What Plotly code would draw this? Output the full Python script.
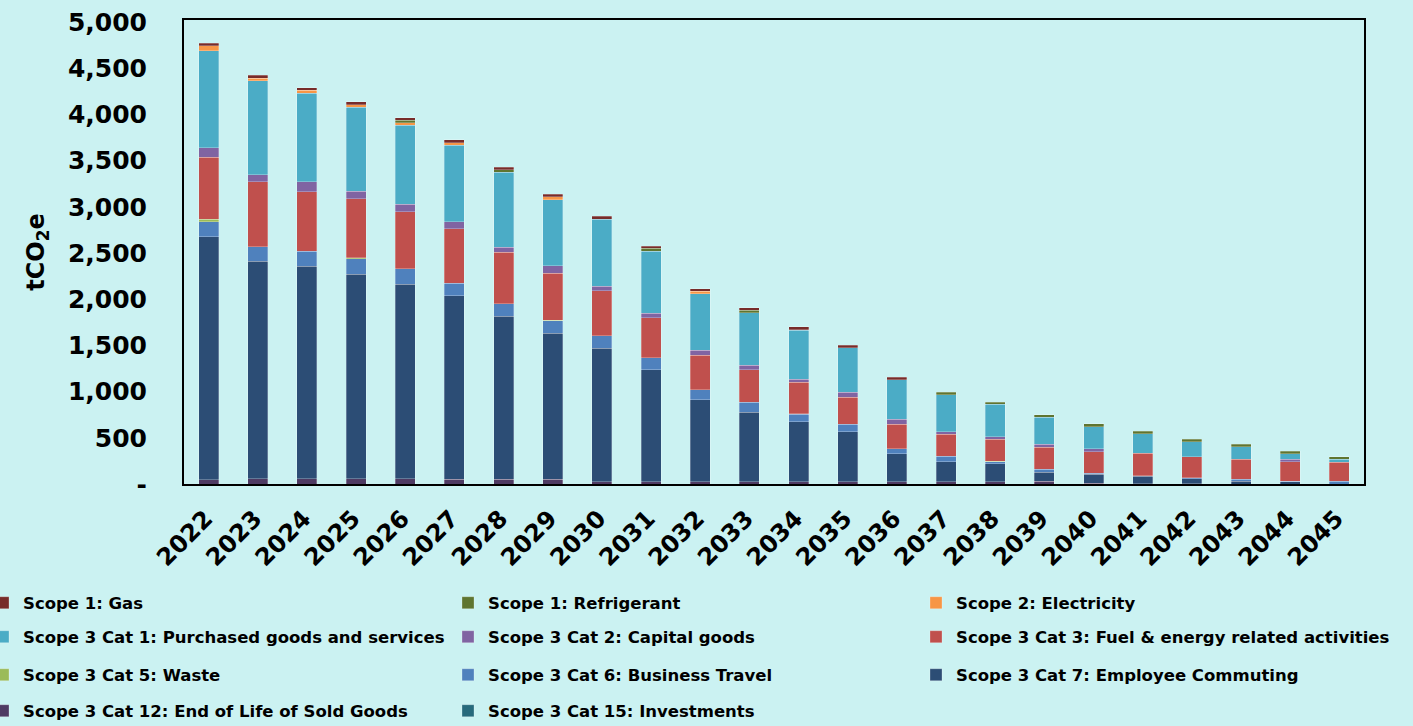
import plotly.graph_objects as go

years = [str(y) for y in range(2022, 2046)]

gas         = [30, 29, 29, 32, 29, 29, 25, 29, 32, 22, 25, 25, 29, 29, 29, 0, 0, 0, 0, 0, 0, 0, 0, 0]
refrigerant = [0, 0, 0, 0, 25, 0, 29, 0, 0, 32, 0, 29, 8, 0, 0, 29, 25, 29, 29, 25, 29, 25, 29, 29]
electricity = [55, 32, 32, 29, 29, 29, 0, 29, 0, 0, 29, 0, 0, 0, 0, 0, 0, 0, 0, 0, 0, 0, 0, 0]
cat1  = [1050, 1014, 960, 909, 855, 830, 808, 718, 722, 671, 613, 563, 530, 483, 429, 400, 350, 292, 242, 213, 162, 137, 58, 29]
cat2  = [101, 79, 105, 83, 79, 76, 54, 79, 54, 51, 54, 51, 29, 51, 54, 29, 29, 29, 29, 0, 0, 0, 29, 0]
cat3  = [671, 700, 646, 638, 617, 588, 559, 509, 483, 429, 371, 350, 346, 296, 267, 238, 235, 242, 231, 242, 225, 213, 213, 209]
cat5  = [29, 0, 0, 10, 0, 0, 0, 5, 0, 0, 0, 0, 5, 0, 0, 0, 5, 0, 0, 5, 0, 0, 0, 0]
cat6  = [159, 159, 159, 166, 166, 137, 134, 134, 134, 134, 108, 108, 79, 79, 54, 58, 22, 29, 11, 0, 10, 25, 3, 29]
cat7  = [2630, 2352, 2301, 2214, 2106, 1981, 1764, 1580, 1446, 1208, 887, 754, 649, 541, 300, 216, 195, 100, 101, 83, 54, 29, 25, 0]
cat12 = [48, 58, 58, 58, 58, 54, 54, 54, 26, 26, 26, 25, 25, 25, 25, 25, 25, 29, 7, 3, 5, 0, 0, 0]
cat15 = [0] * 24

y_tickvals = [0, 500, 1000, 1500, 2000, 2500, 3000, 3500, 4000, 4500, 5000]
y_ticktext = ["-", "500", "1,000", "1,500", "2,000", "2,500", "3,000", "3,500", "4,000", "4,500", "5,000"]

# (name, values, colour, legend, rank) in stacking order bottom -> top
series = [
    ("Scope 3 Cat 15: Investments", cat15, "#276A7C", "legend4", 11),
    ("Scope 3 Cat 12: End of Life of Sold Goods", cat12, "#4F3B63", "legend4", 10),
    ("Scope 3 Cat 7: Employee Commuting", cat7, "#2C4D75", "legend7", 9),
    ("Scope 3 Cat 6: Business Travel", cat6, "#4F81BD", "legend3", 8),
    ("Scope 3 Cat 5: Waste", cat5, "#9BBB59", "legend3", 7),
    ("Scope 3 Cat 3: Fuel & energy related activities", cat3, "#C0504D", "legend6", 6),
    ("Scope 3 Cat 2: Capital goods", cat2, "#8064A2", "legend2", 5),
    ("Scope 3 Cat 1: Purchased goods and services", cat1, "#4BACC6", "legend2", 4),
    ("Scope 2: Electricity", electricity, "#F79646", "legend5", 3),
    ("Scope 1: Refrigerant", refrigerant, "#5F7530", "legend", 2),
    ("Scope 1: Gas", gas, "#772C2A", "legend", 1),
]

fig = go.Figure()
for name, vals, col, leg, rank in series:
    fig.add_trace(go.Bar(
        x=years, y=[v if v else None for v in vals], name=name,
        marker=dict(color=col, line=dict(color="rgba(255,255,255,0.35)", width=0.75)),
        legend=leg, legendrank=rank,
    ))

BG = "#CBF2F2"
FONT = "DejaVu Sans"
PLOT_L, PLOT_W, PLOT_B, PLOT_H = 184, 1180, 484, 464

def lx(px):
    return (px - PLOT_L) / PLOT_W

def ly(py):
    return (PLOT_B - py) / PLOT_H

leg_font = dict(family=FONT, size=16.5, color="black", weight="bold")

def mk_leg(px, py, entrywidth=None):
    d = dict(orientation="h", xanchor="left", yanchor="middle",
             x=lx(px), y=ly(py), bgcolor="rgba(0,0,0,0)", traceorder="normal",
             font=leg_font)
    if entrywidth:
        d.update(entrywidth=entrywidth, entrywidthmode="pixels")
    return d

COL1, COL3 = -17, 916
EW = 420
rows = [603, 637, 675, 711]

fig.update_layout(
    width=1413, height=726,
    paper_bgcolor=BG, plot_bgcolor=BG,
    margin=dict(l=184, r=49, t=20, b=242, autoexpand=False),
    barmode="stack", bargap=0.593,
    font=dict(family=FONT, color="black"),
    legend=mk_leg(COL1, rows[0], EW),
    legend2=mk_leg(COL1, rows[1], EW),
    legend3=mk_leg(COL1, rows[2], EW),
    legend4=mk_leg(COL1, rows[3], EW),
    legend5=mk_leg(COL3, rows[0]),
    legend6=mk_leg(COL3, rows[1]),
    legend7=mk_leg(COL3, rows[2]),
    xaxis=dict(
        type="category", showgrid=False, showline=True, mirror=True,
        linecolor="black", linewidth=2, tickangle=-45, ticks="",
        ticklabelstandoff=9, ticklabelshift=-3,
        tickfont=dict(family=FONT, size=24, color="black", weight="bold"),
    ),
    yaxis=dict(
        range=[0, 5022], tickvals=y_tickvals, ticktext=y_ticktext,
        showgrid=False, showline=True, mirror=True, linecolor="black",
        linewidth=2, ticks="", zeroline=False, ticklabelstandoff=30,
        tickfont=dict(family=FONT, size=25, color="black", weight="bold"),
        title=dict(text="tCO<sub>2</sub>e", standoff=17,
                   font=dict(family=FONT, size=24, color="black", weight="bold")),
    ),
)

fig.write_html("out.html", config={"displayModeBar": False},
               post_script="document.body.style.margin='0';document.body.style.overflow='hidden';")
